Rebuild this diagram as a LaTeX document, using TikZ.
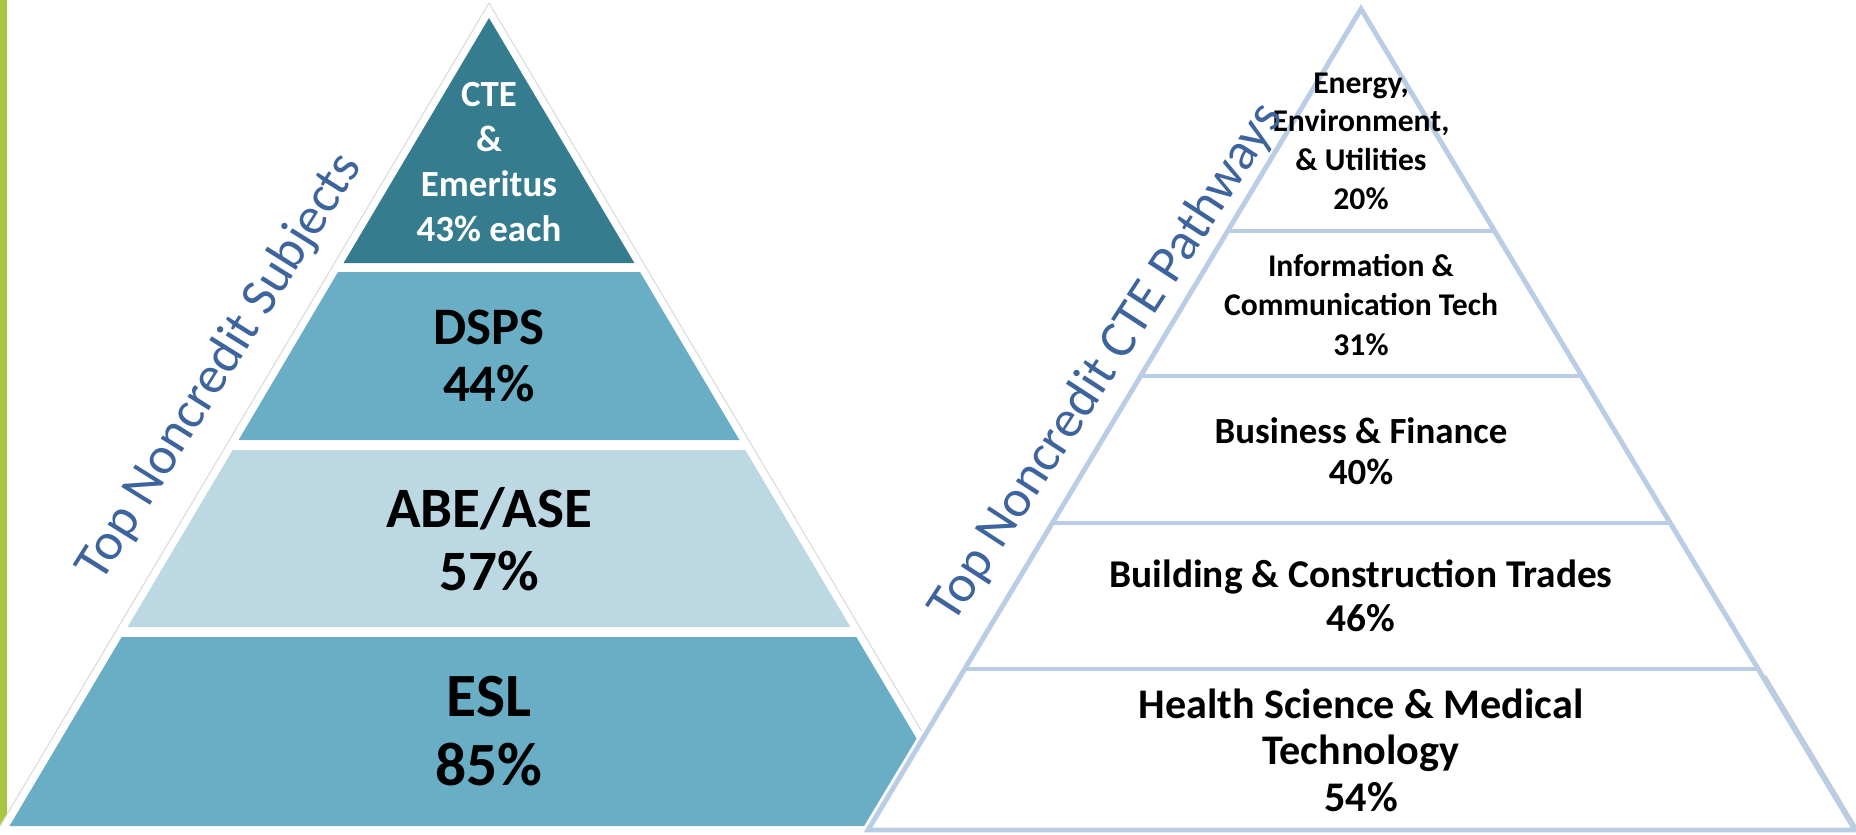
\documentclass[tikz,border=0pt]{standalone}
\usepackage{fontspec}
\setmainfont{Carlito}
\definecolor{tealdark}{RGB}{54,124,143}
\definecolor{tealmid}{RGB}{106,174,198}
\definecolor{teallight}{RGB}{187,216,227}
\definecolor{edgeblue}{RGB}{185,205,229}
\definecolor{titleblue}{RGB}{62,100,158}
\definecolor{barcolor}{RGB}{169,197,66}
\begin{document}
\begin{tikzpicture}[x=0.02cm, y=-0.02cm]
\tikzstyle{title}  = [text=titleblue, inner sep=0pt, font=\fontsize{30}{36}\selectfont]
\tikzstyle{lbl}    = [text centered, align=center, inner sep=0pt]
\tikzstyle{edge}   = [edgeblue, line width=2.8pt]
\useasboundingbox (0.00, 0.00) rectangle (1856.00, 835.00);
\fill[barcolor] (0.00, 0.00) rectangle (7.00, 835.00);
% left pyramid
\filldraw[fill=white, draw=black!14, line width=0.6pt] (489.00, 3.00) -- (988.00, 843.00) -- (-10.00, 843.00) -- cycle;
\fill[tealdark]  (489.00, 18.00) -- (634.40, 263.00) -- (343.60, 263.00) -- cycle;
\fill[tealmid]   (338.00, 272.00) -- (640.00, 272.00) -- (739.40, 440.00) -- (238.60, 440.00) -- cycle;
\fill[teallight] (232.70, 450.00) -- (745.30, 450.00) -- (850.40, 627.00) -- (127.60, 627.00) -- cycle;
\fill[tealmid]   (121.70, 637.00) -- (856.30, 637.00) -- (968.50, 826.00) -- (9.50, 826.00) -- cycle;
\node[lbl, text=white, font=\bfseries\fontsize{21}{25.5}\selectfont] at (489.00, 162.00) (l_s_0) {CTE\\\&\\Emeritus\\43\% each};
\node[lbl, font=\bfseries\fontsize{30}{32.5}\selectfont] at (489.00, 356.00) (l_s_1) {DSPS\\44\%};
\node[lbl, font=\bfseries\fontsize{32.5}{36}\selectfont] at (489.00, 539.00) (l_s_2) {ABE/ASE\\57\%};
\node[lbl, font=\bfseries\fontsize{35}{39.5}\selectfont] at (489.00, 731.00) (l_s_3) {ESL\\85\%};
\node[title, rotate=58] at (220.00, 367.00) (l_t) {Top Noncredit Subjects};
% right pyramid
\filldraw[fill=white, draw=white, line width=6pt] (1361.00, 9.00) -- (1855.00, 830.00) -- (868.00, 830.00) -- cycle;
\draw[black!22, line width=1.6pt] (1765.00, 676.00) -- (1862.00, 838.00);
\draw[edge] (1361.00, 9.00) -- (1855.00, 830.00) -- (868.00, 830.00) -- cycle;
\draw[edge] (1227.50, 231.00) -- (1494.50, 231.00);
\draw[edge] (1140.40, 376.00) -- (1581.60, 376.00);
\draw[edge] (1052.00, 523.00) -- (1670.00, 523.00);
\draw[edge] (964.20, 669.00) -- (1757.80, 669.00);
\node[lbl, font=\bfseries\fontsize{18}{22}\selectfont] at (1361.00, 141.00) (r_p_0) {Energy,\\Environment,\\\& Utilities\\20\%};
\node[lbl, font=\bfseries\fontsize{18}{22.4}\selectfont] at (1361.00, 305.00) (r_p_1) {Information \&\\Communication Tech\\31\%};
\node[lbl, font=\bfseries\fontsize{21}{23.2}\selectfont] at (1361.00, 451.00) (r_p_2) {Business \& Finance\\40\%};
\node[lbl, font=\bfseries\fontsize{22.4}{25}\selectfont] at (1361.00, 596.00) (r_p_3) {Building \& Construction Trades\\46\%};
\node[lbl, font=\bfseries\fontsize{24}{26.4}\selectfont] at (1361.00, 750.00) (r_p_4) {Health Science \& Medical\\Technology\\54\%};
\node[title, rotate=57] at (1107.00, 363.00) (r_t) {Top Noncredit CTE Pathways};
\end{tikzpicture}
\end{document}
